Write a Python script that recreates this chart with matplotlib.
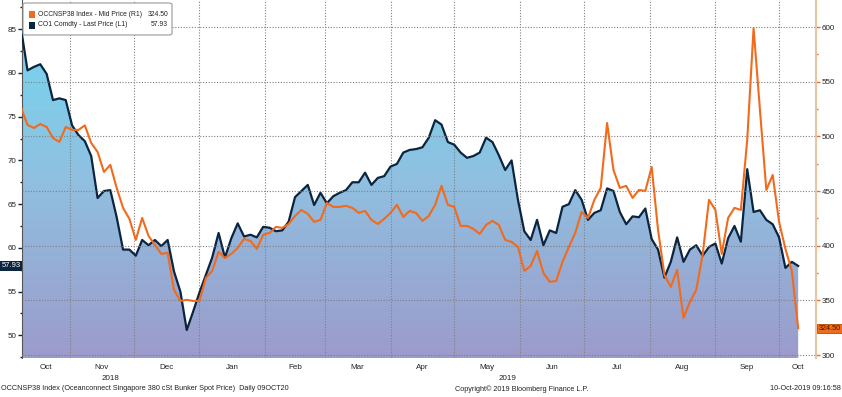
import matplotlib
matplotlib.use('Agg')
import matplotlib.pyplot as plt
import matplotlib.dates as mdates
import matplotlib.transforms as mtrans
from matplotlib.colors import LinearSegmentedColormap
from matplotlib.patches import Rectangle, FancyBboxPatch
import numpy as np
import pandas as pd

plt.rcParams['font.family'] = ['Liberation Sans', 'DejaVu Sans']

# samples every 3 days, 09-Oct-2018 .. 10-Oct-2019
dates = pd.date_range('2018-10-09', '2019-10-10', freq='3D')

# CO1 Comdty - Last Price (L1), USD/bbl
brent = [85.0, 80.3, 80.7, 81.0, 79.9, 76.9, 77.1, 76.9, 74.0, 72.9,
         72.2, 70.5, 65.7, 66.5, 66.6, 63.5, 59.8, 59.8, 59.1, 60.9,
         60.3, 60.9, 60.2, 60.9, 57.3, 55.0, 50.6, 52.7, 54.9, 56.9,
         58.9, 61.7, 58.9, 61.1, 62.8, 61.3, 61.5, 61.2, 62.4, 62.3,
         61.9, 62.0, 63.0, 65.8, 66.5, 67.2, 64.9, 66.3, 65.1, 65.9,
         66.3, 66.6, 67.5, 67.5, 68.6, 67.2, 68.0, 68.2, 69.3, 69.6,
         70.9, 71.2, 71.3, 71.5, 72.6, 74.6, 74.1, 72.1, 71.8, 70.9,
         70.3, 70.5, 70.9, 72.6, 72.1, 70.6, 68.9, 70.0, 65.5, 61.9,
         60.9, 63.2, 60.3, 62.0, 61.7, 64.7, 65.0, 66.6, 65.5, 63.2,
         64.0, 64.3, 66.8, 66.5, 64.1, 62.7, 63.6, 63.5, 64.5, 61.0,
         59.8, 56.6, 58.4, 61.2, 58.4, 59.8, 60.3, 59.1, 60.1, 60.5,
         58.2, 61.1, 62.5, 60.7, 69.0, 64.1, 64.3, 63.2, 62.7, 61.2,
         57.7, 58.4, 57.93]

# OCCNSP38 Index - Mid Price (R1), USD/t
bunker = [526.0, 510.4, 507.7, 511.3, 508.6, 498.5, 494.9, 508.6, 505.9, 505.9,
          510.0, 494.0, 485.7, 467.5, 473.9, 452.8, 434.6, 424.5, 405.3, 425.4,
          409.0, 400.7, 392.5, 393.4, 359.6, 349.5, 350.5, 349.5, 349.5, 370.6,
          377.0, 394.3, 388.8, 392.5, 398.0, 406.2, 404.4, 397.1, 409.9, 411.7,
          417.2, 416.3, 419.9, 427.2, 432.7, 429.1, 421.8, 423.6, 439.1, 435.5,
          435.5, 436.4, 434.6, 430.0, 431.8, 423.6, 419.9, 424.5, 430.0, 437.3,
          426.3, 431.8, 430.0, 422.7, 427.2, 437.3, 454.7, 437.3, 435.5, 418.1,
          418.1, 415.4, 410.8, 419.0, 422.7, 419.0, 405.3, 403.5, 398.9, 377.0,
          381.5, 395.2, 375.1, 366.9, 367.8, 385.2, 398.9, 411.7, 430.9, 425.4,
          441.9, 452.8, 512.2, 469.3, 452.8, 454.7, 443.7, 451.0, 450.1, 472.0,
          414.4, 373.3, 362.3, 377.9, 334.0, 348.6, 359.6, 391.6, 441.9, 432.7,
          392.5, 425.4, 434.6, 432.7, 496.7, 599.0, 524.1, 451.0, 464.7, 421.8,
          397.1, 377.0, 324.5]

navy = '#0b2540'
orange = '#f26a1b'
W, H = 842, 397
fs = 5.8

fig = plt.figure(figsize=(W / 100, H / 100), dpi=100)
ax = fig.add_axes([22 / W, 1 - 358 / H, (816 - 22) / W, 358 / H])
ax2 = ax.twinx()

x = mdates.date2num(dates)
t0 = mdates.date2num(pd.Timestamp('2018-10-09'))
xlo, xhi = t0 + 0.4, t0 + 374.4
ylo, yhi = 47.4, 88.35

# gradient area under brent
cmap = LinearSegmentedColormap.from_list('bbg', ['#9c9bcb', '#90c0e0', '#6edaf2'])
grad = np.linspace(0, 1, 256).reshape(-1, 1)
im = ax.imshow(grad, extent=[xlo, xhi, ylo, yhi], origin='lower',
               aspect='auto', cmap=cmap, zorder=1)
poly = ax.fill_between(x, brent, ylo, facecolor='none', edgecolor='none')
im.set_clip_path(poly.get_paths()[0], transform=ax.transData)

ax.plot(x, brent, color=navy, lw=1.6, zorder=4)
ax2.plot(x, bunker, color=orange, lw=1.5, zorder=4)

ax.set_xlim(xlo, xhi)
ax.set_ylim(ylo, yhi)
ax2.set_ylim(297.3, 624.7)

# month grid and labels
starts = pd.date_range('2018-10-01', '2019-11-01', freq='MS')
mids, names = [], []
for a, b in zip(starts[:-1], starts[1:]):
    a, b = mdates.date2num(a), mdates.date2num(b)
    if a > xlo:
        ax.axvline(a, color='#808080', ls=(0, (1, 1.5)), lw=0.8, zorder=2)
    lo, hi = max(a, xlo), min(b, xhi)
    mids.append((lo + hi) / 2)
    names.append(mdates.num2date(a).strftime('%b'))
for v in range(300, 650, 50):
    ax2.axhline(v, color='#808080', ls=(0, (1, 1.5)), lw=0.8, zorder=2)

ax.set_xticks(mids)
ax.set_xticklabels(names)
ax.tick_params(axis='x', length=0, pad=4, labelsize=fs, colors='#222222')

trans_x = mtrans.blended_transform_factory(ax.transData, ax.transAxes)
for yr, a, b in [('2018', xlo, mdates.date2num(pd.Timestamp('2019-01-01'))),
                 ('2019', mdates.date2num(pd.Timestamp('2019-01-01')), xhi)]:
    ax.text((a + b) / 2, -0.058, yr, transform=trans_x, ha='center', va='center',
            fontsize=fs, color='#222222')

ax.set_yticks(range(50, 90, 5))
ax.set_yticks(np.arange(47.5, 88, 2.5), minor=True)
ax.tick_params(axis='y', which='both', direction='out', length=3, width=1,
               colors=navy, labelcolor='#222222', labelsize=fs, pad=1)
ax.tick_params(axis='y', which='minor', length=1.5)

ax2.set_yticks(range(300, 650, 50))
ax2.set_yticks(range(300, 625, 25), minor=True)
ax2.tick_params(axis='y', which='both', direction='out', length=3, width=1,
                colors=orange, labelcolor='#222222', labelsize=fs, pad=1)
ax2.tick_params(axis='y', which='minor', length=1.5)

for a in (ax, ax2):
    for s in ('top', 'bottom'):
        a.spines[s].set_visible(False)
ax.spines['left'].set_color('#555555')
ax.spines['right'].set_visible(False)
ax2.spines['left'].set_visible(False)
ax2.spines['right'].set_color('#e8c4a0')
ax2.spines['right'].set_linewidth(1.5)

# last value tags
tl = mtrans.blended_transform_factory(ax.transAxes, ax.transData)
ax.text(-0.002, brent[-1], f'{brent[-1]:.2f}', transform=tl, ha='right', va='center',
        fontsize=5.5, color='white', clip_on=False,
        bbox=dict(boxstyle='square,pad=0.15', fc=navy, ec='none'))
tr = mtrans.blended_transform_factory(ax2.transAxes, ax2.transData)
ax2.text(1.003, bunker[-1], f'{bunker[-1]:.2f}', transform=tr, ha='left', va='center',
         fontsize=5.2, color='#3a1500', clip_on=False,
         bbox=dict(boxstyle='square,pad=0.15', fc=orange, ec='#b84a00', lw=0.6))

# legend box
fig.add_artist(FancyBboxPatch((23 / W, 1 - 35 / H), 149 / W, 32 / H,
                              boxstyle='round,pad=0,rounding_size=0.004',
                              transform=fig.transFigure, fc='white', ec='#9a9a9a',
                              lw=0.8, zorder=10))
rows = [(orange, 'OCCNSP38 Index - Mid Price (R1)', f'{bunker[-1]:.2f}', 14.5),
        (navy, 'CO1 Comdty - Last Price (L1)', f'{brent[-1]:.2f}', 25.0)]
for col, lab, val, py in rows:
    fig.add_artist(Rectangle((29 / W, 1 - (py + 3.5) / H), 6 / W, 7 / H,
                             transform=fig.transFigure, fc=col, ec='none', zorder=11))
    fig.text(38 / W, 1 - py / H, lab, ha='left', va='center', fontsize=4.9,
             color='#222222', zorder=12)
    fig.text(168 / W, 1 - py / H, val, ha='right', va='center', fontsize=4.9,
             color='#222222', zorder=12)

# footer
fs2 = 5.2
fig.text(1 / W, 1 - 389 / H, 'OCCNSP38 Index (Oceanconnect Singapore 380 cSt Bunker Spot Price)  Daily 09OCT20',
         ha='left', va='center', fontsize=fs2, color='#222222')
fig.text(522 / W, 1 - 389 / H, 'Copyright\u00a9 2019 Bloomberg Finance L.P.',
         ha='center', va='center', fontsize=fs2, color='#222222')
fig.text(841 / W, 1 - 389 / H, '10-Oct-2019 09:16:58',
         ha='right', va='center', fontsize=fs2, color='#222222')

fig.savefig('out.png', dpi=100)
